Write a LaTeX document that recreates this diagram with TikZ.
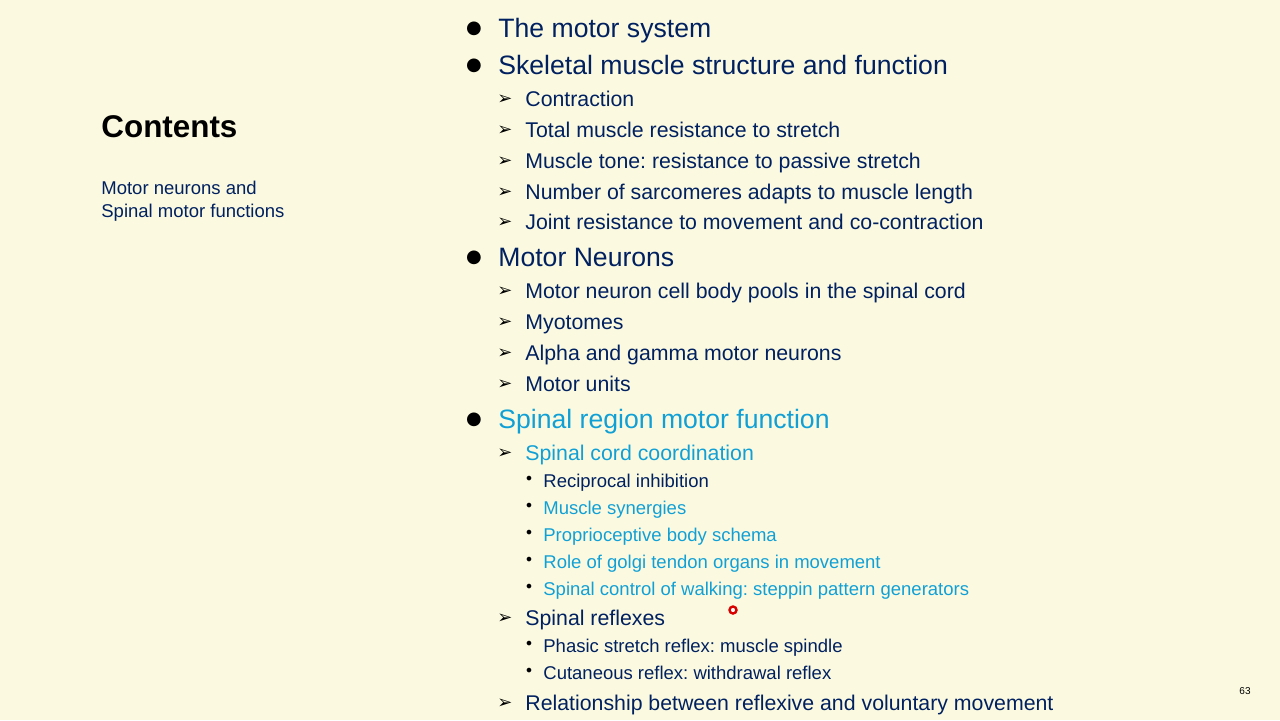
\documentclass[tikz,border=0pt]{standalone}
\usepackage{fontspec}
\setmainfont{Liberation Sans}
\newfontfamily\djv{DejaVu Sans}
\definecolor{bg}{RGB}{251,250,224}
\definecolor{navy}{RGB}{0,32,96}
\definecolor{cyan}{RGB}{17,160,214}
\frenchspacing
\begin{document}
\begin{tikzpicture}[x=0.5pt,y=-0.5pt,
  lone/.style={anchor=base west,inner sep=0pt,font=\fontsize{13.3}{15}\selectfont},
  ltwo/.style={anchor=base west,inner sep=0pt,font=\fontsize{10.65}{12}\selectfont},
  lthree/.style={anchor=base west,inner sep=0pt,font=\fontsize{9.25}{10}\selectfont},
  bone/.style={anchor=center,inner sep=0pt,font=\djv\fontsize{9}{9}\selectfont},
  btwo/.style={anchor=center,inner sep=0pt,font=\djv\fontsize{9}{9}\selectfont},
  bthree/.style={anchor=center,inner sep=0pt,font=\djv\fontsize{8}{8}\selectfont}]
\fill[bg] (0,0) rectangle (1280,720);
\useasboundingbox (0,0) rectangle (1280,720);
\node[anchor=west,inner sep=0pt,font=\bfseries\fontsize{15.7}{18}\selectfont] (ct) at (101,127) {Contents};
\node[anchor=north west,inner sep=0pt,align=left,text=navy,font=\fontsize{9.25}{11.5}\selectfont] (lt) at (101,181) {Motor neurons and\\Spinal motor functions};
\node[inner sep=0pt,font=\fontsize{5}{6}\selectfont] (pg) at (1245,691) {63};
% level 1
\foreach \y/\t/\c [count=\i] in {28/The motor system/navy,65/Skeletal muscle structure and function/navy,257/Motor Neurons/navy,419/Spinal region motor function/cyan}{
  \node[bone] (b1\i) at (474,\y+1) {●};
  \node[lone,text=\c] (t1\i) at (498,\y+9) {\t};
}
% level 2
\foreach \y/\t/\c [count=\i] in {99/Contraction/navy,130/Total muscle resistance to stretch/navy,161/Muscle tone: resistance to passive stretch/navy,192/Number of sarcomeres adapts to muscle length/navy,222/Joint resistance to movement and co-contraction/navy,291/Motor neuron cell body pools in the spinal cord/navy,322/Myotomes/navy,353/Alpha and gamma motor neurons/navy,384/Motor units/navy,453/Spinal cord coordination/cyan,618/Spinal reflexes/navy,703/Relationship between reflexive and voluntary movement/navy}{
  \node[btwo] (b2\i) at (505,\y+1) {➢};
  \node[ltwo,text=\c] (t2\i) at (525,\y+7) {\t};
}
% level 3
\foreach \y/\t/\c [count=\i] in {481/Reciprocal inhibition/navy,508/Muscle synergies/cyan,535/Proprioceptive body schema/cyan,562/Role of golgi tendon organs in movement/cyan,589/Spinal control of walking: steppin pattern generators/cyan,646/Phasic stretch reflex: muscle spindle/navy,673/Cutaneous reflex: withdrawal reflex/navy}{
  \node[bthree] (b3\i) at (529,\y-1) {•};
  \node[lthree,text=\c] (t3\i) at (543,\y+6) {\t};
}
\draw[red!85!black,line width=1.2pt,fill=white] (733,610) circle (3.5);
\end{tikzpicture}
\end{document}
